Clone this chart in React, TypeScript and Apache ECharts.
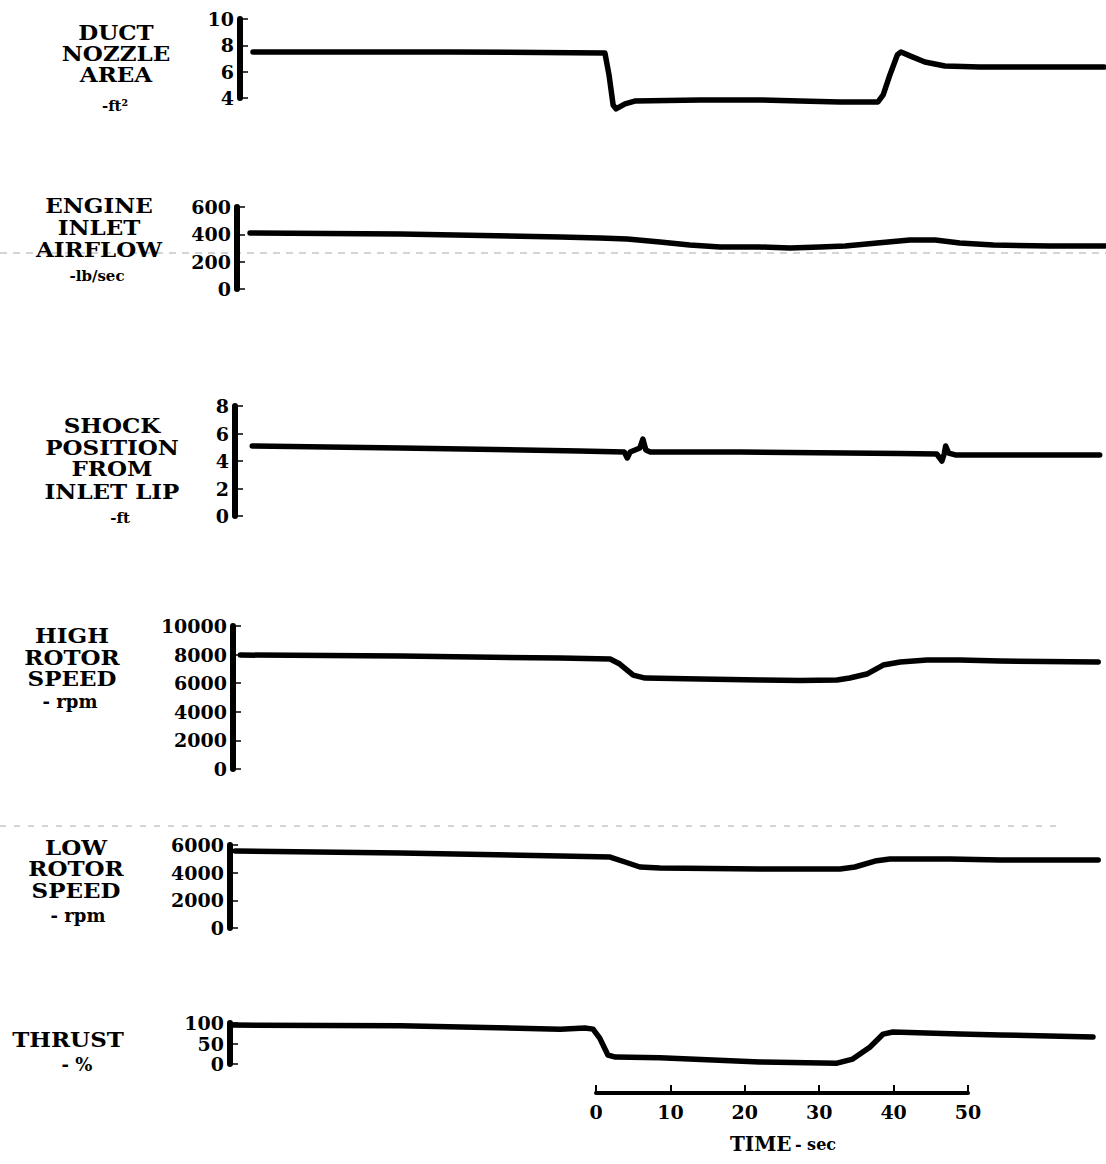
import React, { useEffect, useRef } from "react";
import * as echarts from "echarts";

// ---------- DATA (time in seconds, values in panel units) ----------
const nozzleTime = [-46.1, -19.6, 1.2, 1.75, 2.3, 2.7, 3.9, 5.2, 14, 22, 27.4, 32.8, 37.9, 38.6, 39.5, 40.5, 41.0, 42.2, 44.2, 46.9, 51.6, 68.3];
const nozzleArea = [7.5, 7.5, 7.42, 5.75, 3.47, 3.17, 3.55, 3.77, 3.85, 3.85, 3.77, 3.7, 3.7, 4.23, 5.75, 7.27, 7.5, 7.2, 6.73, 6.43, 6.35, 6.35];

const airflowTime = [-46.5, -26.3, -4.8, 0.5, 4.2, 8.6, 12.6, 16.7, 22, 26.1, 30.1, 33.5, 37.8, 42.2, 45.6, 48.9, 53.4, 61, 68.4];
const airflow = [410, 402, 380, 373, 366, 344, 322, 307, 307, 300, 307, 315, 337, 359, 359, 337, 322, 315, 315];

const shockTime = [-46.2, -26.3, -2.2, 3.8, 4.2, 4.6, 5.9, 6.3, 6.7, 7.3, 19.4, 40.9, 45.8, 46.5, 46.8, 47.0, 47.4, 48.3, 54.3, 67.7];
const shockPos = [5.09, 4.95, 4.73, 4.65, 4.22, 4.65, 4.95, 5.6, 4.8, 4.65, 4.65, 4.55, 4.51, 4.0, 4.51, 5.09, 4.58, 4.44, 4.44, 4.44];

const highRotorTime = [-47.8, -26.3, -4.8, 1.9, 3.2, 5.0, 6.6, 14, 22, 27.4, 32.4, 34.1, 36.4, 38.6, 40.9, 44.5, 48.9, 54.3, 67.5];
const highRotor = [7970, 7900, 7760, 7690, 7340, 6570, 6360, 6290, 6220, 6190, 6220, 6360, 6640, 7270, 7480, 7620, 7620, 7550, 7480];

const lowRotorTime = [-48.5, -26.3, -4.8, 1.9, 3.9, 5.9, 8.6, 22, 32.8, 34.8, 37.5, 39.5, 47.6, 54.3, 67.5];
const lowRotor = [5570, 5420, 5200, 5130, 4770, 4410, 4340, 4270, 4270, 4410, 4840, 4990, 4990, 4920, 4920];

const thrustTime = [-48.9, -26.3, -4.8, -1.5, -0.4, 0.5, 1.6, 2.6, 8.6, 22, 32.4, 34.5, 36.8, 38.6, 39.9, 48.9, 54.3, 66.8];
const thrust = [95, 93, 85, 88, 85, 63, 22, 17, 15, 5, 2, 12, 41, 73, 78, 73, 71, 66];

const timeTicks = { min: 0, max: 50, interval: 10 };

// ---------- LAYOUT ----------
const T0_X = 596; // pixel of t = 0
const PX_PER_SEC = 7.44;
const RIGHT_X = 1105;
const FONT = "'DejaVu Serif', 'Liberation Serif', serif";

const panels = [
  { left: 240, top: 19, bottom: 98, min: 4, max: 10, interval: 2, t: nozzleTime, v: nozzleArea,
    cx: 116, lines: ["DUCT", "NOZZLE", "AREA"], ys: [33, 54, 75], unit: "-ft²", unitY: 106, unitX: 115, unitSize: 15 },
  { left: 237, top: 207, bottom: 289, min: 0, max: 600, interval: 200, t: airflowTime, v: airflow,
    cx: 99, lines: ["ENGINE", "INLET", "AIRFLOW"], ys: [206, 228, 250], unit: "-lb/sec", unitY: 276, unitX: 97, unitSize: 15 },
  { left: 235, top: 406, bottom: 516, min: 0, max: 8, interval: 2, t: shockTime, v: shockPos,
    cx: 112, lines: ["SHOCK", "POSITION", "FROM", "INLET LIP"], ys: [426, 448, 469, 492], unit: "-ft", unitY: 518, unitX: 120, unitSize: 15 },
  { left: 233, top: 626, bottom: 769, min: 0, max: 10000, interval: 2000, t: highRotorTime, v: highRotor,
    cx: 72, lines: ["HIGH", "ROTOR", "SPEED"], ys: [636, 658, 679], unit: "- rpm", unitY: 701, unitX: 70, unitSize: 18 },
  { left: 230, top: 845, bottom: 928, min: 0, max: 6000, interval: 2000, t: lowRotorTime, v: lowRotor,
    cx: 76, lines: ["LOW", "ROTOR", "SPEED"], ys: [848, 869, 891], unit: "- rpm", unitY: 915, unitX: 78, unitSize: 18 },
  { left: 230, top: 1023, bottom: 1064, min: 0, max: 100, interval: 50, t: thrustTime, v: thrust,
    cx: 68, lines: ["THRUST"], ys: [1040], unit: "- %", unitY: 1064, unitX: 77, unitSize: 18 },
];

export default function App() {
  const ref = useRef<HTMLDivElement>(null);
  useEffect(() => {
    const chart = echarts.init(ref.current!, null, { renderer: "svg" });
    const xMax = (RIGHT_X - T0_X) / PX_PER_SEC;

    const grid: any[] = [];
    const xAxis: any[] = [];
    const yAxis: any[] = [];
    const series: any[] = [];
    const graphic: any[] = [];

    // scan artifact dashed lines
    graphic.push({ type: "line", silent: true, z: -1, shape: { x1: 0, y1: 253, x2: 1106, y2: 253 },
      style: { stroke: "#aaa", lineWidth: 1, lineDash: [7, 6] } });
    graphic.push({ type: "line", silent: true, z: -1, shape: { x1: 0, y1: 826, x2: 1060, y2: 826 },
      style: { stroke: "#aaa", lineWidth: 1, lineDash: [6, 8] } });

    panels.forEach((p, i) => {
      grid.push({ left: p.left, top: p.top, width: RIGHT_X - p.left, height: p.bottom - p.top });
      xAxis.push({ type: "value", gridIndex: i, show: false, min: (p.left - T0_X) / PX_PER_SEC, max: xMax });
      yAxis.push({
        type: "value", gridIndex: i, min: p.min, max: p.max, interval: p.interval, position: "left",
        axisLine: { show: true, onZero: false, lineStyle: { color: "#000", width: 6 } },
        axisTick: { show: true, inside: true, length: 8, lineStyle: { color: "#000", width: 1.5 } },
        axisLabel: { color: "#000", fontFamily: FONT, fontWeight: "bold", fontSize: 19, margin: 6,
          formatter: (v: number) => String(v) },
        splitLine: { show: false },
      });
      series.push({
        type: "line", xAxisIndex: i, yAxisIndex: i, showSymbol: false, symbol: "none", clip: false, silent: true,
        data: p.t.map((t, k) => [t, p.v[k]]),
        lineStyle: { color: "#000", width: 5.5, join: "round", cap: "round" },
      });
      p.lines.forEach((txt, k) => {
        graphic.push({ type: "text", x: p.cx, y: p.ys[k], scaleX: 1.15, silent: true,
          style: { text: txt, fill: "#000", font: `bold 20px ${FONT}`, textAlign: "center", textVerticalAlign: "middle" } });
      });
      graphic.push({ type: "text", x: p.unitX, y: p.unitY, silent: true,
        style: { text: p.unit, fill: "#000", font: `bold ${p.unitSize}px ${FONT}`, textAlign: "center", textVerticalAlign: "middle" } });
    });

    // time axis
    const ti = panels.length;
    grid.push({ left: T0_X, top: 1083, width: 372, height: 10 });
    xAxis.push({
      type: "value", gridIndex: ti, min: timeTicks.min, max: timeTicks.max, interval: timeTicks.interval,
      axisLine: { show: true, onZero: false, lineStyle: { color: "#000", width: 4 } },
      axisTick: { show: true, inside: true, length: 8, lineStyle: { color: "#000", width: 2 } },
      axisLabel: { color: "#000", fontFamily: FONT, fontWeight: "bold", fontSize: 19, margin: 9 },
      splitLine: { show: false },
    });
    yAxis.push({ type: "value", gridIndex: ti, show: false, min: 0, max: 1 });
    graphic.push({ type: "text", x: 783, y: 1144, silent: true,
      style: { text: "{a|TIME} {b|- sec}", textAlign: "center", textVerticalAlign: "middle",
        rich: { a: { font: `bold 20px ${FONT}`, fill: "#000" }, b: { font: `bold 16px ${FONT}`, fill: "#000" } } } });

    chart.setOption({
      animation: false,
      backgroundColor: "#fff",
      grid, xAxis, yAxis, series, graphic,
    });
    return () => chart.dispose();
  }, []);
  return <div ref={ref} style={{ position: "absolute", left: 0, top: 0, width: 1106, height: 1164, background: "#fff" }} />;
}
